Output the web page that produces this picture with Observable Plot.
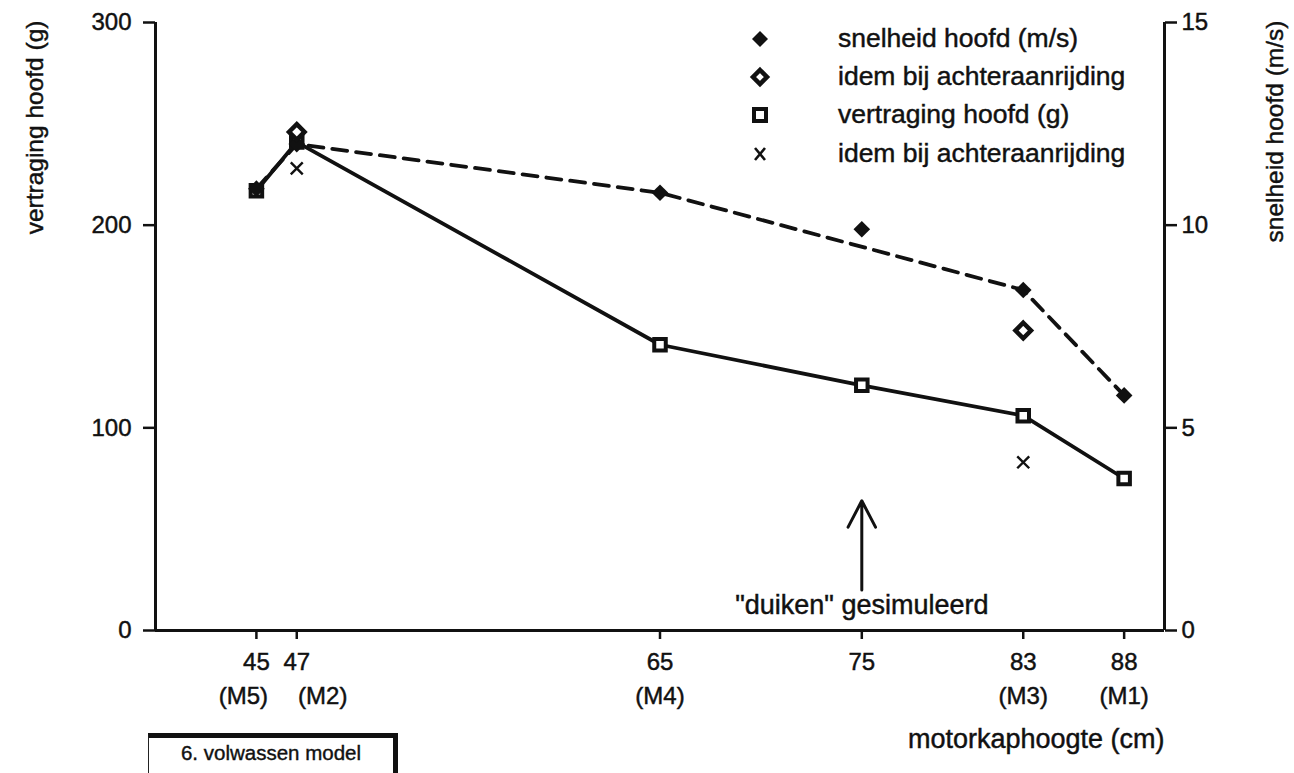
<!DOCTYPE html>
<html><head><meta charset="utf-8">
<script src="https://cdn.jsdelivr.net/npm/d3@7"></script>
<script src="https://cdn.jsdelivr.net/npm/@observablehq/plot@0.6"></script>
<style>
body{margin:0;background:#fff;}
#wrap{position:relative;width:1294px;height:773px;overflow:hidden;font-family:"Liberation Sans",Arial,sans-serif;color:#111;background:#fff;}
#wrap svg text{stroke:#111;stroke-width:0.45px;}
.row{position:absolute;left:740px;height:30px;line-height:30px;font-size:26.5px;white-space:nowrap;-webkit-text-stroke:0.45px #111;}
.row svg{position:absolute;left:7px;top:3px;}
.row span{position:absolute;left:98px;top:0;}
#box{position:absolute;left:148px;top:733px;width:244px;height:50px;border:1.5px solid #222;border-top:5px solid #111;border-right:5px solid #111;text-align:center;font-size:20.5px;line-height:30px;-webkit-text-stroke:0.4px #111;}
</style></head>
<body><div id="wrap"></div>
<script>
// ---- data ----
const hoogte = [45, 47, 65, 75, 83, 88];
const modelLabels = ["(M5)", "(M2)", "(M4)", "", "(M3)", "(M1)"];
const vertraging = [217, 241, 141, 121, 106, 75];      // g
const snelheid = [10.9, 12.0, 10.8, 9.9, 8.4, 5.8];    // m/s
const opLijn = [true, true, true, false, true, true];  // 75 ("duiken") not on the dashed line
const achterHoogte = [47, 83];
const snelheidAchter = [12.3, 7.4];                    // m/s
const vertragingAchter = [228, 83];                    // g
const yTicks = [0, 100, 200, 300];
const gPerMs = 20;                                     // right axis: 300 g <-> 15 m/s
const legendLabels = ["snelheid hoofd (m/s)", "idem bij achteraanrijding", "vertraging hoofd (g)", "idem bij achteraanrijding"];
const duiken = [{x: 75, vanaf: 20, tot: 64, tekstY: 12.5, tekst: "\"duiken\" gesimuleerd"}];

const vData = hoogte.map((h, i) => ({h, g: vertraging[i]}));
const sData = hoogte.map((h, i) => ({h, v: snelheid[i], lijn: opLijn[i]}));
const sAchter = achterHoogte.map((h, i) => ({h, v: snelheidAchter[i]}));
const vAchter = achterHoogte.map((h, i) => ({h, g: vertragingAchter[i]}));
const modelText = d => modelLabels[hoogte.indexOf(d)];

const ink = "#111";
const chart = Plot.plot({
  width: 1294, height: 773,
  marginLeft: 155, marginRight: 130, marginTop: 22, marginBottom: 143,
  style: {fontFamily: "Liberation Sans, Arial, sans-serif", fontSize: "24px", color: ink, background: "white"},
  x: {domain: [40, 90]},
  y: {domain: [0, 300]},
  marks: [
    Plot.ruleX([40], {stroke: ink, strokeWidth: 3}),
    Plot.ruleX([90], {stroke: ink, strokeWidth: 3}),
    Plot.ruleY([0], {stroke: ink, strokeWidth: 3}),
    Plot.axisY({ticks: yTicks, tickSize: 12, tickPadding: 12, strokeWidth: 2.5, label: null}),
    Plot.axisY({anchor: "right", ticks: yTicks, tickFormat: d => d / gPerMs, tickSize: 12, tickPadding: 5, strokeWidth: 2.5, label: null}),
    Plot.axisX({ticks: hoogte, tickFormat: d => d, tickSize: 9, tickPadding: 13, strokeWidth: 2.5, label: null}),
    Plot.text(hoogte.slice(0, 1), {x: d => d, text: modelText, frameAnchor: "bottom", lineAnchor: "top", dy: 56, dx: -13}),
    Plot.text(hoogte.slice(1, 2), {x: d => d, text: modelText, frameAnchor: "bottom", lineAnchor: "top", dy: 56, dx: 26}),
    Plot.text(hoogte.slice(2), {x: d => d, text: modelText, frameAnchor: "bottom", lineAnchor: "top", dy: 56}),
    Plot.text(["motorkaphoogte (cm)"], {frameAnchor: "bottom-right", textAnchor: "end", lineAnchor: "top", dy: 98, fontSize: 27}),
    Plot.text(["vertraging hoofd (g)"], {frameAnchor: "top-left", rotate: -90, textAnchor: "end", lineAnchor: "middle", dx: -120, dy: -2, fontSize: 24.5}),
    Plot.text(["snelheid hoofd (m/s)"], {frameAnchor: "top-right", rotate: -90, textAnchor: "end", lineAnchor: "middle", dx: 111, dy: -2, fontSize: 24.5}),
    Plot.line(vData, {x: "h", y: "g", stroke: ink, strokeWidth: 3.8}),
    Plot.line(sData.filter(d => d.lijn), {x: "h", y: d => d.v * gPerMs, stroke: ink, strokeWidth: 3.8, strokeDasharray: "15,9"}),
    Plot.dot(vData, {x: "h", y: "g", symbol: "square", r: 6.5, fill: "white", stroke: ink, strokeWidth: 4}),
    Plot.dot(sData, {x: "h", y: d => d.v * gPerMs, symbol: "diamond2", r: 7.5, fill: ink}),
    Plot.dot(sAchter, {x: "h", y: d => d.v * gPerMs, symbol: "diamond2", r: 7, fill: "white", stroke: ink, strokeWidth: 4.5}),
    Plot.dot(vAchter, {x: "h", y: "g", symbol: "times", r: 5.5, stroke: ink, strokeWidth: 2.4}),
    Plot.arrow(duiken, {x1: "x", x2: "x", y1: "vanaf", y2: "tot", stroke: ink, strokeWidth: 3, headLength: 22, headAngle: 55}),
    Plot.text(duiken, {x: "x", y: "tekstY", text: "tekst", fontSize: 27})
  ]
});
const wrap = document.getElementById("wrap");
wrap.appendChild(chart);

// legend
const symbolsSvg = [
  '<svg width="26" height="26"><path d="M13,5 L21,13 L13,21 L5,13 Z" fill="#111"/></svg>',
  '<svg width="26" height="26"><path d="M13,6 L20,13 L13,20 L6,13 Z" fill="white" stroke="#111" stroke-width="4.5"/></svg>',
  '<svg width="26" height="26"><rect x="7" y="7" width="12" height="12" fill="white" stroke="#111" stroke-width="4"/></svg>',
  '<svg width="26" height="26"><path d="M8,7 L18,19 M18,7 L8,19" stroke="#111" stroke-width="2.6"/></svg>'
];
const rowTops = [23, 61, 99, 138];
legendLabels.forEach((t, i) => {
  const r = document.createElement("div");
  r.className = "row";
  r.style.top = rowTops[i] + "px";
  r.innerHTML = symbolsSvg[i] + "<span>" + t + "</span>";
  wrap.appendChild(r);
});
const box = document.createElement("div");
box.id = "box";
box.textContent = "6. volwassen model";
wrap.appendChild(box);
</script></body></html>
